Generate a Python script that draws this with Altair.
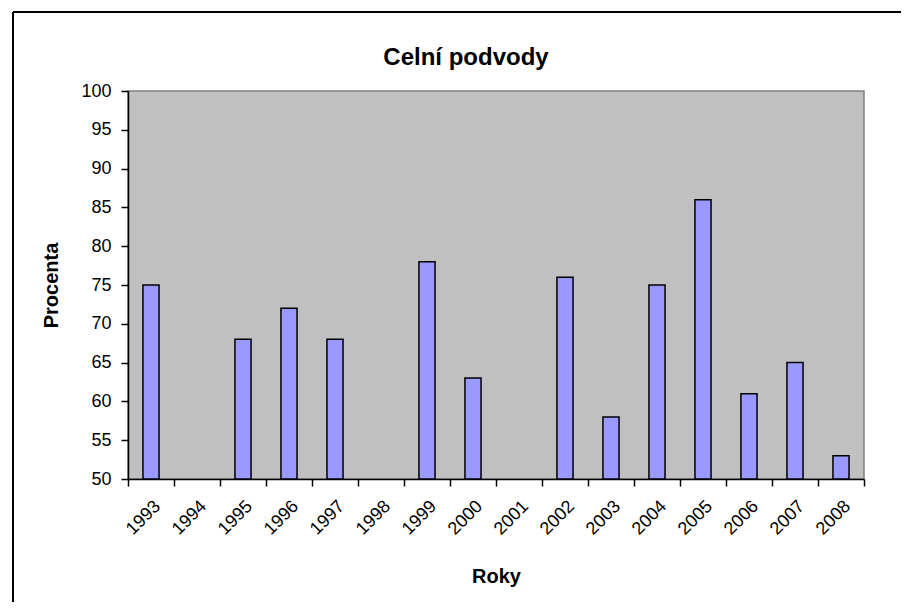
import altair as alt
import pandas as pd

years = ["1993", "1994", "1995", "1996", "1997", "1998", "1999", "2000",
         "2001", "2002", "2003", "2004", "2005", "2006", "2007", "2008"]
values = [75, None, 68, 72, 68, None, 78, 63, None, 76, 58, 75, 86, 61, 65, 53]
y_ticks = [50, 55, 60, 65, 70, 75, 80, 85, 90, 95, 100]
BASE = 50

df = pd.DataFrame({"Roky": years, "Procenta": values, "base": BASE})

FONT = "Liberation Sans"

x_enc = alt.X("Roky:N", sort=years, title="Roky",
              scale=alt.Scale(domain=years, paddingInner=0, paddingOuter=0),
              axis=alt.Axis(tickBand="extent", labelAngle=-45, tickSize=7,
                            labelPadding=11, titlePadding=28,
                            labelFontSize=18, titleFontSize=20,
                            titleFontWeight="bold"))
y_enc = alt.Y("Procenta:Q", title="Procenta",
              scale=alt.Scale(domain=[50, 100], nice=False, zero=False),
              axis=alt.Axis(values=y_ticks, tickSize=7, labelPadding=10,
                            titlePadding=19, labelFontSize=18,
                            titleFontSize=20, titleFontWeight="bold",
                            grid=False))

bars = alt.Chart(df).mark_bar(
    width=alt.RelativeBandSize(0.35), color="#9999FF",
    stroke="black", strokeWidth=1.5
).encode(x=x_enc, y=y_enc, y2="base:Q").transform_filter("isValid(datum.Procenta)")

frame_top = alt.Chart(alt.Data(values=[{}])).mark_rule(
    color="black", strokeWidth=2).encode(
    x=alt.value(-115), x2=alt.value(900), y=alt.value(-79))
frame_left = alt.Chart(alt.Data(values=[{}])).mark_rule(
    color="black", strokeWidth=2).encode(
    x=alt.value(-115), y=alt.value(-79), y2=alt.value(700))

chart = alt.layer(bars, frame_top, frame_left).properties(
    width=736, height=388,
    autosize=alt.AutoSizeParams(type="none"),
    padding={"left": 120, "top": 83, "right": 37, "bottom": 123},
    title=alt.TitleParams("Celní podvody", fontSize=24, fontWeight="bold",
                          font=FONT, color="black", offset=22, dx=-30, dy=81)
).configure_view(
    fill="#C0C0C0", stroke="#808080", strokeWidth=1.5
).configure_axis(
    labelFont=FONT, titleFont=FONT, labelColor="black", titleColor="black",
    domainColor="black", tickColor="black", domainWidth=1.5, tickWidth=1.5
)

chart.save("out.html", embed_options={"renderer": "svg", "actions": False})
